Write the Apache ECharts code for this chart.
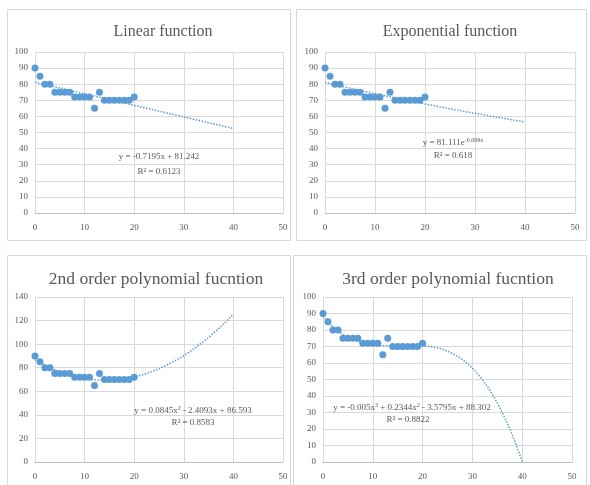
<!DOCTYPE html>
<html>
<head>
<meta charset="utf-8">
<script src="https://cdn.jsdelivr.net/npm/echarts@6/dist/echarts.min.js"></script>
<style>html,body{margin:0;padding:0;background:#fff}#c{width:590px;height:485px}</style>
</head>
<body>
<div id="c"></div>
<script>
const xValues = [0,1,2,3,4,5,6,7,8,9,10,11,12,13,14,15,16,17,18,19,20];
const yValues = [90,85,80,80,75,75,75,75,72,72,72,72,65,75,70,70,70,70,70,70,72];
const titles = ['Linear function','Exponential function','2nd order polynomial fucntion','3rd order polynomial fucntion'];
const linearCoef = [81.242, -0.7195];           // a + b x
const expCoef = [81.111, -0.009];               // a e^(b x)
const poly2Coef = [86.593, -2.4093, 0.0845];    // c0 + c1 x + c2 x^2
const poly3Coef = [88.302, -3.5795, 0.2344, -0.005];
const trendXMax = 40;
const yMax = [100, 100, 140, 100];
const yStep = [10, 10, 20, 10];

const blue = '#5b9bd5', grey = '#595959', font = 'Liberation Serif';
function poly(c, x){ return c.reduce((s,v,i)=>s+v*Math.pow(x,i),0); }
const fns = [
  x => linearCoef[0] + linearCoef[1]*x,
  x => expCoef[0]*Math.exp(expCoef[1]*x),
  x => poly(poly2Coef, x),
  x => poly(poly3Coef, x)
];
const trendX = []; for (let x=0; x<=trendXMax; x+=0.5) trendX.push(x);

const grids = [
  {left:35, top:52, width:248, height:161},
  {left:325, top:52, width:250, height:161},
  {left:35, top:297, width:248, height:165},
  {left:323, top:297, width:249, height:165}
];
const chart = echarts.init(document.getElementById('c'));
const xAxis = [], yAxis = [], series = [], title = [];
const centers = [158, 445, 151, 443];
const tTop = [19, 19, 265, 265];
const tSize = [16, 16, 17.5, 17.5];
grids.forEach((g,i)=>{
  xAxis.push({gridIndex:i, type:'value', min:0, max:50, interval:10,
    axisLine:{lineStyle:{color:'#bfbfbf'}}, axisTick:{show:false},
    axisLabel:{color:grey, fontFamily:font, fontSize:9, margin:10},
    splitLine:{lineStyle:{color:'#d9d9d9'}}});
  yAxis.push({gridIndex:i, type:'value', min:0, max:yMax[i], interval:yStep[i],
    axisLine:{show:false}, axisTick:{show:false},
    axisLabel:{color:grey, fontFamily:font, fontSize:9, margin:7},
    splitLine:{lineStyle:{color:'#d9d9d9'}}});
  series.push({type:'line', xAxisIndex:i, yAxisIndex:i, showSymbol:false, silent:true,
    data: trendX.map(x=>[x, fns[i](x)]),
    lineStyle:{color:blue, width:1.5, type:'dotted'}, z:2});
  series.push({type:'scatter', xAxisIndex:i, yAxisIndex:i, symbolSize:7,
    data: xValues.map((x,k)=>[x, yValues[k]]), itemStyle:{color:blue, opacity:1}, z:3});
  title.push({text:titles[i], left:centers[i], top:tTop[i], textAlign:'center',
    textStyle:{fontFamily:font, fontWeight:'normal', fontSize:tSize[i], color:grey}});
});
const fs = 9;
const rich = {t:{fontFamily:font,fontSize:fs,fill:grey}, s:{fontFamily:font,fontSize:6,fill:grey,verticalAlign:'top',padding:[0,0,5,0]}};
function plain(x,y,text){ return {type:'text', x:x, y:y, z:10, style:{text:text, font:fs+'px '+font, fill:grey, textAlign:'center'}}; }
function richT(x,y,text){ return {type:'text', x:x, y:y, z:10, style:{text:text, rich:rich, fill:grey, font:fs+'px '+font, textAlign:'center'}}; }
const graphic = [
  {type:'rect', shape:{x:7.5,y:9.5,width:283,height:231}, style:{fill:'none',stroke:'#d9d9d9',lineWidth:1}, silent:true},
  {type:'rect', shape:{x:296.5,y:9.5,width:290,height:231}, style:{fill:'none',stroke:'#d9d9d9',lineWidth:1}, silent:true},
  {type:'rect', shape:{x:7.5,y:255.5,width:283,height:240}, style:{fill:'none',stroke:'#d9d9d9',lineWidth:1}, silent:true},
  {type:'rect', shape:{x:293.5,y:255.5,width:293,height:240}, style:{fill:'none',stroke:'#d9d9d9',lineWidth:1}, silent:true},
  plain(159, 152, 'y = -0.7195x + 81.242'),
  plain(159, 167, 'R² = 0.6123'),
  richT(453, 137, '{t|y = 81.111e}{s|-0.009x}'),
  plain(453, 151, 'R² = 0.618'),
  richT(193, 405, '{t|y = 0.0845x}{s|2}{t| - 2.4093x + 86.593}'),
  plain(193, 418, 'R² = 0.8583'),
  richT(412, 402, '{t|y = -0.005x}{s|3}{t| + 0.2344x}{s|2}{t| - 3.5795x + 88.302}'),
  plain(408, 415, 'R² = 0.8822')
];
chart.setOption({animation:false, backgroundColor:'#fff', title, grid:grids, xAxis, yAxis, series, graphic});
</script>
</body>
</html>
